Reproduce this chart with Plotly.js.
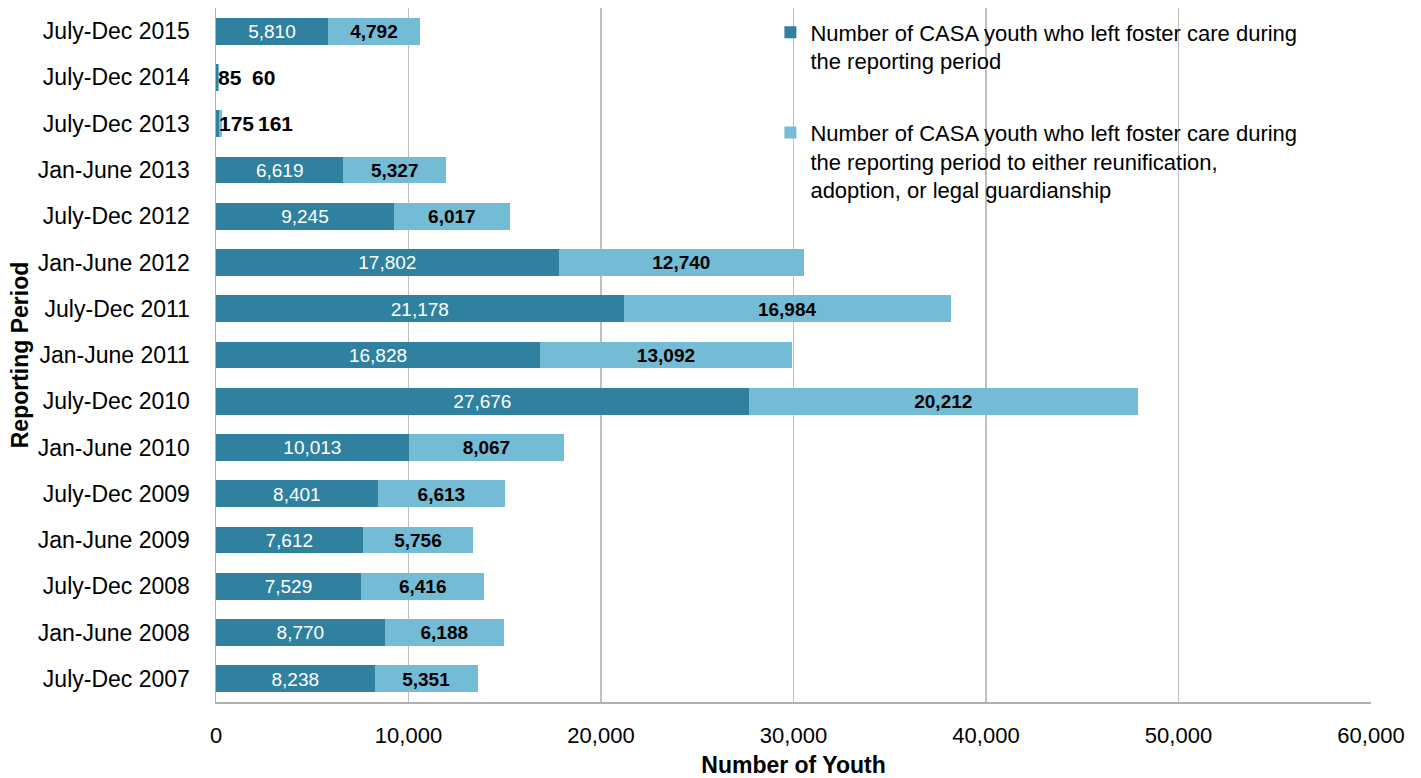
<!DOCTYPE html>
<html>
<head>
<meta charset="utf-8">
<script src="https://cdn.plot.ly/plotly-3.0.1.min.js"></script>
<style>html,body{margin:0;padding:0;background:#fff;}#chart{width:1421px;height:778px;}</style>
</head>
<body>
<div id="chart"></div>
<script>
const periods = ["July-Dec 2007","Jan-June 2008","July-Dec 2008","Jan-June 2009","July-Dec 2009","Jan-June 2010","July-Dec 2010","Jan-June 2011","July-Dec 2011","Jan-June 2012","July-Dec 2012","Jan-June 2013","July-Dec 2013","July-Dec 2014","July-Dec 2015"];
const leftCare = [8238,8770,7529,7612,8401,10013,27676,16828,21178,17802,9245,6619,175,85,5810];
const leftToPermanency = [5351,6188,6416,5756,6613,8067,20212,13092,16984,12740,6017,5327,161,60,4792];
const seriesNames = ["Number of CASA youth who left foster care during<br>the reporting period","Number of CASA youth who left foster care during<br>the reporting period to either reunification,<br>adoption, or legal guardianship"];
const xTicks = [0,10000,20000,30000,40000,50000,60000];

const FONT = "'Liberation Sans Narrow', 'Arial Narrow', 'Liberation Sans', sans-serif";
const fmt = v => v.toLocaleString('en-US');
const SMALL = 1000; // segments too narrow for an inside label
const isSmall = (i) => leftCare[i] < SMALL;

const trace1 = {
  type: 'bar', orientation: 'h', name: seriesNames[0], legendgroup: 'a',
  y: periods, x: leftCare,
  text: leftCare.map((v,i) => isSmall(i) ? '' : fmt(v)),
  textposition: 'inside', insidetextanchor: 'middle',
  textfont: {family: FONT, size: 21, color: '#ffffff'},
  marker: {color: '#2F819F', line: {width: 0}},
  hoverinfo: 'x+y'
};
const trace2 = {
  type: 'bar', orientation: 'h', name: seriesNames[1], legendgroup: 'b',
  y: periods, x: leftToPermanency,
  text: leftToPermanency.map((v,i) => isSmall(i) ? '' : '<b>' + fmt(v) + '</b>'),
  textposition: 'inside', insidetextanchor: 'middle',
  textfont: {family: FONT, size: 21, color: '#000000'},
  marker: {color: '#74BBD5', line: {width: 0}},
  hoverinfo: 'x+y'
};

const annotations = [];
periods.forEach((p, i) => {
  if (!isSmall(i)) return;
  const end = leftCare[i] + leftToPermanency[i];
  const wide = leftCare[i] >= 100;
  annotations.push({x: end, y: p, xref: 'x', yref: 'y', text: '<b>' + fmt(leftCare[i]) + '</b>',
    showarrow: false, xanchor: 'left', xshift: (wide ? -5 : -3), font: {family: FONT, size: 21, color: '#000'}});
  annotations.push({x: end, y: p, xref: 'x', yref: 'y', text: '<b>' + fmt(leftToPermanency[i]) + '</b>',
    showarrow: false, xanchor: 'left', xshift: (wide ? 34 : 31), font: {family: FONT, size: 21, color: '#000'}});
});

const layout = {
  width: 1421, height: 778,
  margin: {l: 216, r: 50, t: 8, b: 76},
  paper_bgcolor: '#ffffff', plot_bgcolor: '#ffffff',
  barmode: 'stack', bargap: 0.42,
  font: {family: FONT, size: 23, color: '#000'},
  showlegend: true,
  legend: {x: 0.48, y: 0.995, xanchor: 'left', yanchor: 'top', valign: 'top',
    traceorder: 'grouped', tracegroupgap: 40,
    font: {family: FONT, size: 22, color: '#000'}, bgcolor: 'rgba(0,0,0,0)'},
  xaxis: {
    range: [0, 60000], tickvals: xTicks, ticktext: xTicks.map(fmt),
    showgrid: true, gridcolor: '#BFBFBF', gridwidth: 1.5,
    showline: true, linecolor: '#AFAFAF', linewidth: 1.5,
    zeroline: false, ticks: '', ticklabelstandoff: 13,
    tickfont: {family: FONT, size: 22, color: '#000'},
    title: {text: '<b>Number of Youth</b>', font: {family: FONT, size: 23, color: '#000'}, standoff: 14}
  },
  yaxis: {
    type: 'category', categoryorder: 'array', categoryarray: periods,
    showgrid: false, showline: true, linecolor: '#AFAFAF', linewidth: 1.5,
    ticks: '', ticklabelstandoff: 20,
    tickfont: {family: FONT, size: 23, color: '#000'},
    title: {text: '<b>Reporting Period</b>', font: {family: FONT, size: 23, color: '#000'}, standoff: 2}
  },
  annotations: annotations
};

Plotly.newPlot('chart', [trace1, trace2], layout, {displayModeBar: false, staticPlot: true});
</script>
</body>
</html>
